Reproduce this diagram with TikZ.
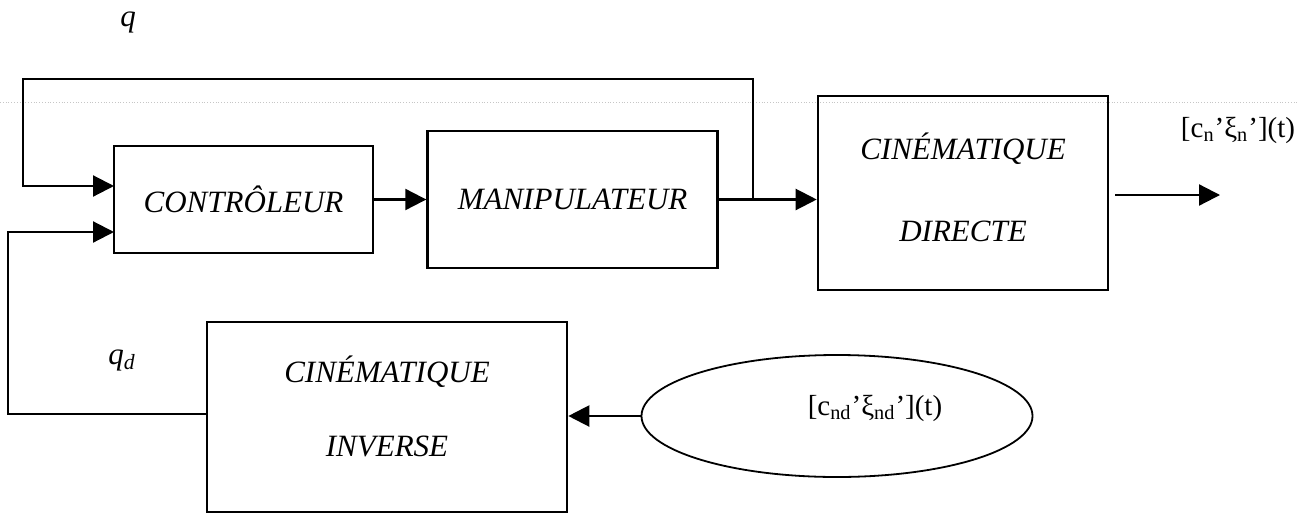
\documentclass[tikz,border=0pt]{standalone}
\usepackage{fontspec}
\setmainfont{Liberation Serif}
\usetikzlibrary{arrows.meta,positioning,shapes.geometric}

\begin{document}
\begin{tikzpicture}[
  x=0.5pt, y=-0.5pt,
  font=\fontsize{15.5}{18}\selectfont,
  >={Triangle[length=10.5pt,width=10.5pt]},
  box/.style={
    draw,
    line width=1.3pt,
    inner sep=0pt,
    align=center,
    font=\fontsize{15.5}{18}\selectfont\itshape
  },
  arrow/.style={->, line width=1.1pt},
  sig/.style={inner sep=0pt, font=\fontsize{14.5}{17}\selectfont}
]
\useasboundingbox (0,0) rectangle (1299,514);

% faint scan line
\draw[gray!45, line width=0.4pt, densely dotted] (0,102) -- (1299,102);

\node[box, minimum width=129.5pt, minimum height=53.5pt] (ctrl) at (243.5,199.5) {CONTRÔLEUR};

\node[box, minimum width=145pt, minimum height=68.5pt, right=26pt of ctrl] (manip) {MANIPULATEUR};

\node[box, minimum width=145pt, minimum height=97pt] (direct) at (963,193) {
  CINÉMATIQUE\\[23pt]
  DIRECTE\\[-12pt]
};

\node[box, minimum width=180pt, minimum height=95pt] (inverse) at (387,417) {
  CINÉMATIQUE\\[19pt]
  INVERSE\\[-7.5pt]
};

\node[ellipse, draw, line width=0.9pt, inner sep=0pt,
  minimum width=195.5pt, minimum height=61pt] (target) at (837,416) {};
\node[sig] (targetlab) at (875,408) {[c\textsubscript{nd}’ξ\textsubscript{nd}’](t)};

\node[inner sep=0pt] (q) at (128,22) {\textit{q}};
\node[inner sep=0pt] (qd) at (122,360) {\textit{q}\textsubscript{\textit{d}}};
\node[sig] (outlab) at (1238,130) {[c\textsubscript{n}’ξ\textsubscript{n}’](t)};

\coordinate[right=17pt of manip.east] (split);
\coordinate (loop) at (23,79);
\coordinate (loopd) at (8,414);
\coordinate (in1) at (114,186);
\coordinate (in2) at (114,232);
\coordinate (out) at (1220,195);

\draw[arrow] (ctrl) -- (manip);
\draw[arrow] (manip) -- (manip -| direct.west);
\draw[arrow] (split) |- (loop) |- (in1);
\draw[arrow] (inverse.west |- loopd) -- (loopd) |- (in2);
\draw[arrow] (target.west) -- (target.west -| inverse.east);
\draw[arrow] ([xshift=3pt]direct.east |- out) -- (out);

\end{tikzpicture}
\end{document}
